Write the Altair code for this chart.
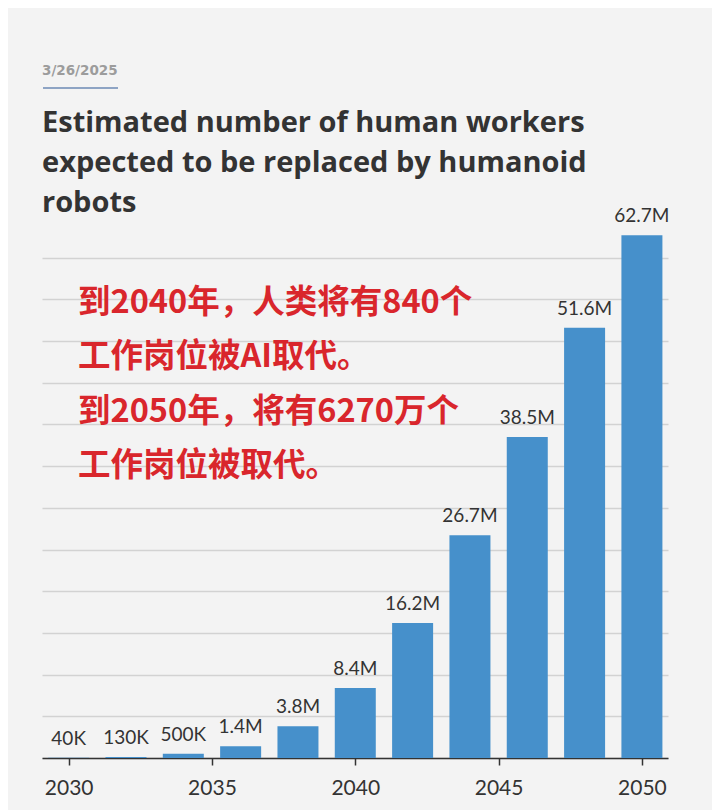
import altair as alt
import pandas as pd

years = [2030, 2032, 2034, 2036, 2038, 2040, 2042, 2044, 2046, 2048, 2050]
workers_m = [0.04, 0.13, 0.5, 1.4, 3.8, 8.4, 16.2, 26.7, 38.5, 51.6, 62.7]
labels = ["40K", "130K", "500K", "1.4M", "3.8M", "8.4M", "16.2M", "26.7M", "38.5M", "51.6M", "62.7M"]
x_ticks = [2030, 2035, 2040, 2045, 2050]
y_grid = [0, 5, 10, 15, 20, 25, 30, 35, 40, 45, 50, 55, 60]

date_text = "3/26/2025"
title_lines = [
    "Estimated number of human workers",
    "expected to be replaced by humanoid",
    "robots",
]
note_lines = [
    "到2040年，人类将有840个",
    "工作岗位被AI取代。",
    "到2050年，将有6270万个",
    "工作岗位被取代。",
]

df = pd.DataFrame({"year": years, "value": workers_m, "label": labels})

x_enc = alt.X(
    "year:Q",
    scale=alt.Scale(domain=[2029.07, 2050.91], nice=False, zero=False, padding=0),
    axis=alt.Axis(
        values=x_ticks, format="d", title=None, grid=False,
        labelFont="Lato", labelFontSize=21, labelColor="#333333",
        labelPadding=12, tickSize=7, tickColor="#333333", tickWidth=1.5,
        domainColor="#333333", domainWidth=1.5, labelFlush=False,
    ),
)
y_enc = alt.Y(
    "value:Q",
    scale=alt.Scale(domain=[0, 65], nice=False),
    axis=alt.Axis(
        values=y_grid, title=None, labels=False, ticks=False, domain=False,
        grid=True, gridColor="#d2d2d2", gridWidth=1.5,
    ),
)

base = alt.Chart(df)
bars = base.mark_bar(color="#4690cb", size=41).encode(x=x_enc, y=y_enc)
bar_labels = base.mark_text(
    font="Lato", fontSize=19, color="#333333", dy=-19, baseline="middle"
).encode(x="year:Q", y="value:Q", text="label:N")

one = pd.DataFrame({"k": [0]})
deco = []
deco.append(
    alt.Chart(one).mark_text(
        text=date_text, font="DejaVu Sans", fontSize=13.5, fontWeight="bold",
        color="#9c9c9c", align="left", baseline="middle",
    ).encode(x=alt.value(0), y=alt.value(-145))
)
deco.append(
    alt.Chart(one).mark_rule(color="#8ea4c4", strokeWidth=1.8).encode(
        x=alt.value(1), x2=alt.value(76), y=alt.value(-128)
    )
)
for i, t in enumerate(title_lines):
    deco.append(
        alt.Chart(one).mark_text(
            text=t, font="Open Sans", fontSize=29, fontWeight="bold",
            color="#333333", align="left", baseline="middle",
        ).encode(x=alt.value(0), y=alt.value(-93 + 40 * i))
    )
for i, t in enumerate(note_lines):
    deco.append(
        alt.Chart(one).mark_text(
            text=t, font="Noto Sans CJK SC", fontSize=32.5, fontWeight="bold",
            color="#d9262c", align="left", baseline="middle",
        ).encode(x=alt.value(36), y=alt.value(87 + 54.3 * i))
    )

chart = alt.layer(bars, bar_labels, *deco).properties(
    width=626, height=542,
    padding={"left": 34, "top": 208, "right": 44, "bottom": 52},
    autosize=alt.AutoSizeParams(type="none"),
    background="#f3f3f3",
).configure_view(stroke=None)

chart.save("out.html", embed_options={"renderer": "svg", "actions": False})
